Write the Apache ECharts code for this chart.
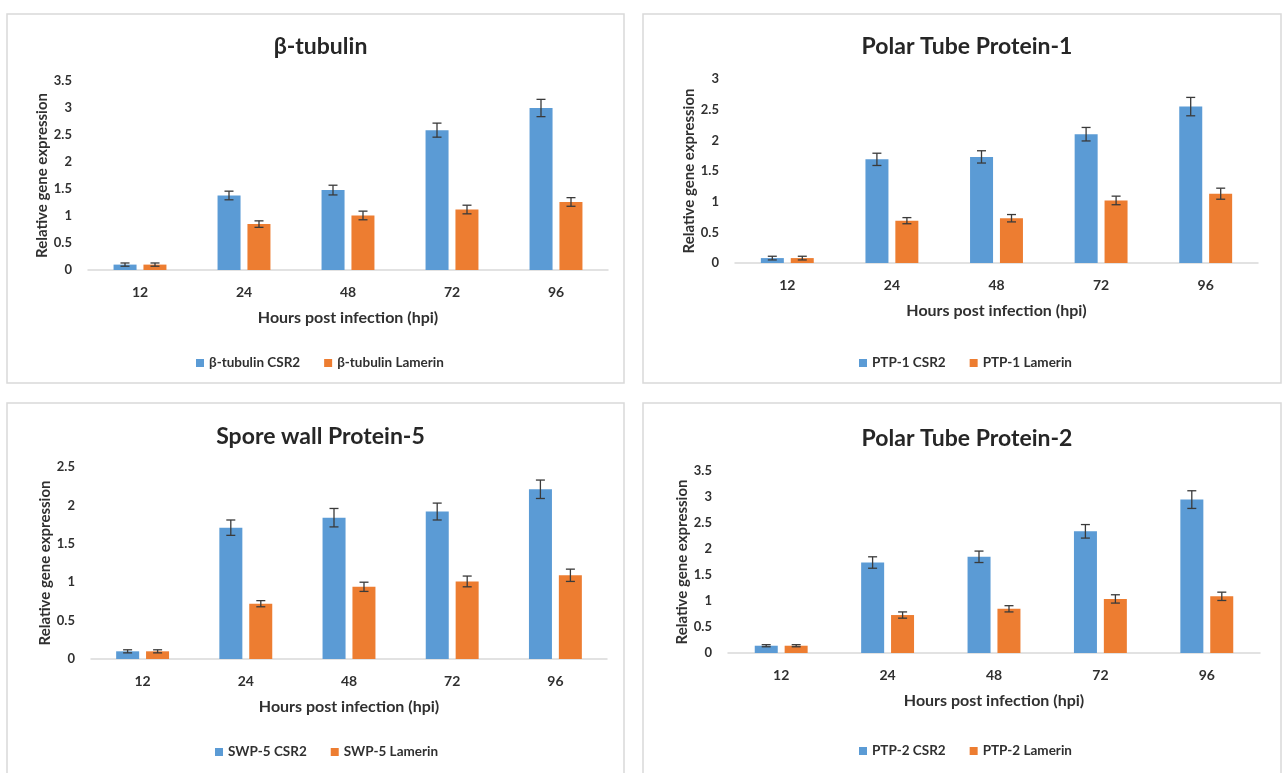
<!DOCTYPE html>
<html>
<head>
<meta charset="utf-8">
<script src="https://cdn.jsdelivr.net/npm/echarts@6/dist/echarts.min.js"></script>
<style>html,body{margin:0;padding:0;background:#fff;}#c{width:1285px;height:773px;}</style>
</head>
<body>
<div id="c"></div>
<script>
var categories = ['12', '24', '48', '72', '96'];

var tubCSR2 = [0.10, 1.38, 1.48, 2.59, 3.00];
var tubCSR2Err = [0.03, 0.08, 0.09, 0.13, 0.16];
var tubLam = [0.10, 0.85, 1.01, 1.12, 1.26];
var tubLamErr = [0.03, 0.06, 0.08, 0.08, 0.08];

var ptp1CSR2 = [0.08, 1.69, 1.73, 2.10, 2.55];
var ptp1CSR2Err = [0.03, 0.10, 0.10, 0.11, 0.15];
var ptp1Lam = [0.08, 0.69, 0.73, 1.02, 1.13];
var ptp1LamErr = [0.03, 0.05, 0.06, 0.07, 0.09];

var swpCSR2 = [0.10, 1.71, 1.84, 1.92, 2.21];
var swpCSR2Err = [0.02, 0.10, 0.12, 0.11, 0.12];
var swpLam = [0.10, 0.72, 0.94, 1.01, 1.09];
var swpLamErr = [0.02, 0.04, 0.06, 0.07, 0.08];

var ptp2CSR2 = [0.14, 1.74, 1.85, 2.34, 2.95];
var ptp2CSR2Err = [0.02, 0.11, 0.11, 0.13, 0.17];
var ptp2Lam = [0.14, 0.73, 0.85, 1.04, 1.09];
var ptp2LamErr = [0.02, 0.06, 0.06, 0.08, 0.08];

var titles = ['β-tubulin', 'Polar Tube Protein-1', 'Spore wall Protein-5', 'Polar Tube Protein-2'];
var legendNames = [
  ['β-tubulin CSR2', 'β-tubulin Lamerin'],
  ['PTP-1 CSR2', 'PTP-1 Lamerin'],
  ['SWP-5 CSR2', 'SWP-5 Lamerin'],
  ['PTP-2 CSR2', 'PTP-2 Lamerin']
];
var yMax = [3.5, 3, 2.5, 3.5];
var xName = 'Hours post infection (hpi)';
var yName = 'Relative gene expression';

var panelData = [
  [tubCSR2, tubCSR2Err, tubLam, tubLamErr],
  [ptp1CSR2, ptp1CSR2Err, ptp1Lam, ptp1LamErr],
  [swpCSR2, swpCSR2Err, swpLam, swpLamErr],
  [ptp2CSR2, ptp2CSR2Err, ptp2Lam, ptp2LamErr]
];

// layout (pixels)
var boxes = [
  {x: 7, y: 14, w: 617, h: 369},
  {x: 643, y: 14, w: 638, h: 369},
  {x: 7, y: 403, w: 617, h: 372},
  {x: 643, y: 403, w: 638, h: 372}
];
var grids = [
  {left: 88, top: 81, width: 520, height: 189},
  {left: 735, top: 79, width: 523, height: 184},
  {left: 91, top: 467, width: 516, height: 192},
  {left: 728, top: 471, width: 532, height: 182}
];
var titleTops = [30, 30, 420, 422];
var legendPos = [
  {left: 191, top: 351},
  {left: 854, top: 351},
  {left: 210, top: 740},
  {left: 854, top: 739}
];

var BLUE = '#5B9BD5', ORANGE = '#ED7D31';
var FONT = 'Lato';
var TXT = '#303030';
var BAR_W = 23, OFFSET = 15;

function errRender(offset) {
  return function (params, api) {
    var i = api.value(0), v = api.value(1), e = api.value(2);
    var hi = api.coord([i, v + e]);
    var lo = api.coord([i, v - e]);
    var x = hi[0] + offset;
    var st = {stroke: '#3a3a3a', lineWidth: 1.3};
    return {
      type: 'group',
      children: [
        {type: 'line', shape: {x1: x, y1: hi[1], x2: x, y2: lo[1]}, style: st},
        {type: 'line', shape: {x1: x - 4.5, y1: hi[1], x2: x + 4.5, y2: hi[1]}, style: st},
        {type: 'line', shape: {x1: x - 4.5, y1: lo[1], x2: x + 4.5, y2: lo[1]}, style: st}
      ]
    };
  };
}

var option = {
  animation: false,
  backgroundColor: '#ffffff',
  textStyle: {fontFamily: FONT},
  title: [], legend: [], grid: [], xAxis: [], yAxis: [], series: [],
  graphic: []
};

for (var p = 0; p < 4; p++) {
  var b = boxes[p];
  option.graphic.push({
    type: 'rect', silent: true, z: -1,
    shape: {x: b.x, y: b.y, width: b.w, height: b.h},
    style: {fill: '#ffffff', stroke: '#d9d9d9', lineWidth: 1.5}
  });
  option.title.push({
    text: titles[p],
    left: b.x + b.w / 2, top: titleTops[p], textAlign: 'center',
    textStyle: {fontFamily: FONT, fontSize: 23, fontWeight: 'bold', color: '#262626'}
  });
  option.legend.push({
    data: legendNames[p],
    left: legendPos[p].left, top: legendPos[p].top,
    itemWidth: 8, itemHeight: 8, itemGap: 24,
    icon: 'rect',
    textStyle: {fontFamily: FONT, fontSize: 13.5, fontWeight: 'bold', color: TXT}
  });
  option.grid.push({left: grids[p].left, top: grids[p].top, width: grids[p].width, height: grids[p].height, containLabel: false});
  option.xAxis.push({
    type: 'category', gridIndex: p, data: categories,
    name: xName, nameLocation: 'middle', nameGap: 40,
    nameTextStyle: {fontFamily: FONT, fontSize: 16, fontWeight: 'bold', color: TXT},
    axisLine: {lineStyle: {color: '#d9d9d9', width: 1.5}},
    axisTick: {show: false},
    axisLabel: {margin: 15, fontFamily: FONT, fontSize: 14, fontWeight: 'bold', color: TXT}
  });
  option.yAxis.push({
    type: 'value', gridIndex: p, min: 0, max: yMax[p], interval: 0.5,
    name: yName, nameLocation: 'middle', nameGap: 38,
    nameTextStyle: {fontFamily: FONT, fontSize: 15, fontWeight: 'bold', color: TXT},
    axisLine: {show: false}, axisTick: {show: false}, splitLine: {show: false},
    axisLabel: {margin: 16, fontFamily: FONT, fontSize: 13, fontWeight: 'bold', color: TXT}
  });
  var d = panelData[p];
  option.series.push({
    name: legendNames[p][0], type: 'bar', xAxisIndex: p, yAxisIndex: p,
    data: d[0], barWidth: BAR_W, barGap: '30%', itemStyle: {color: BLUE}
  });
  option.series.push({
    name: legendNames[p][1], type: 'bar', xAxisIndex: p, yAxisIndex: p,
    data: d[2], barWidth: BAR_W, barGap: '30%', itemStyle: {color: ORANGE}
  });
  var e1 = [], e2 = [];
  for (var i = 0; i < categories.length; i++) {
    e1.push([i, d[0][i], d[1][i]]);
    e2.push([i, d[2][i], d[3][i]]);
  }
  option.series.push({
    type: 'custom', xAxisIndex: p, yAxisIndex: p, z: 5, silent: true,
    renderItem: errRender(-OFFSET), data: e1, encode: {x: 0, y: 1}
  });
  option.series.push({
    type: 'custom', xAxisIndex: p, yAxisIndex: p, z: 5, silent: true,
    renderItem: errRender(OFFSET), data: e2, encode: {x: 0, y: 1}
  });
}

var chart = echarts.init(document.getElementById('c'), null, {renderer: 'canvas'});
chart.setOption(option);
</script>
</body>
</html>
